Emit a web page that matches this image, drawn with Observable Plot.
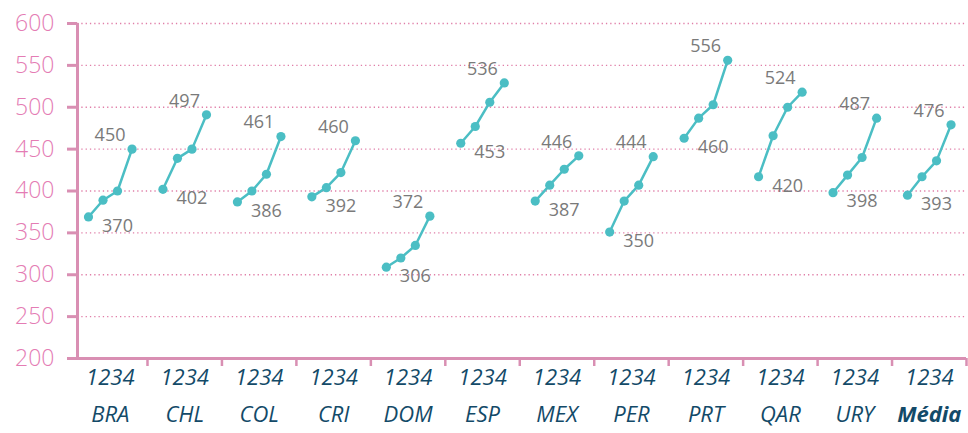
<!DOCTYPE html>
<html>
<head>
<meta charset="utf-8">
<script src="https://cdn.jsdelivr.net/npm/d3@7"></script>
<script src="https://cdn.jsdelivr.net/npm/@observablehq/plot@0.6"></script>
<style>
  html, body { margin: 0; padding: 0; background: #fff; }
  #chart { width: 968px; height: 433px; }
  svg { overflow: visible; }
</style>
</head>
<body>
<div id="chart"></div>
<script>
// ---- data ----
const countries = ["BRA", "CHL", "COL", "CRI", "DOM", "ESP", "MEX", "PER", "PRT", "QAR", "URY", "Média"];
const quartiles = ["1", "2", "3", "4"];
const q1 = [369, 402, 387, 393, 309, 457, 388, 351, 463, 417, 398, 395];
const q2 = [389, 439, 400, 404, 320, 477, 407, 388, 487, 466, 419, 417];
const q3 = [400, 450, 420, 422, 335, 506, 426, 407, 503, 500, 440, 436];
const q4 = [450, 491, 465, 460, 370, 529, 442, 441, 556, 518, 487, 479];
const firstLabels = ["370", "402", "386", "392", "306", "453", "387", "350", "460", "420", "398", "393"];
const lastLabels  = ["450", "497", "461", "460", "372", "536", "446", "444", "556", "524", "487", "476"];
const yTicks = [200, 250, 300, 350, 400, 450, 500, 550, 600];

// ---- build table ----
const series = [q1, q2, q3, q4];
const step = 0.195;
const rows = [];
countries.forEach((c, i) => {
  series.forEach((s, k) => {
    rows.push({country: c, gi: i, q: k, x: i + (k - 1.5) * step, y: s[i]});
  });
});
const firsts = rows.filter(d => d.q === 0).map(d => ({...d, label: firstLabels[d.gi]}));
const lasts = rows.filter(d => d.q === 3).map(d => ({...d, label: lastLabels[d.gi]}));
const groups = countries.map((c, i) => ({country: c, gi: i}));
const boundaries = countries.map((c, i) => i + 0.5);
const lastIdx = countries.length - 1;

const pink = "#d98fb3";
const grid = "#e07fa8";
const tickPink = "#e47cb4";
const teal = "#4bbec4";
const navy = "#134a68";
const xMin = -0.44;

const chart = Plot.plot({
  width: 968,
  height: 433,
  marginTop: 23,
  marginBottom: 75,
  marginLeft: 77,
  marginRight: 2,
  style: {fontFamily: "'Open Sans', sans-serif", background: "#fff"},
  x: {domain: [xMin, countries.length - 0.5], axis: null},
  y: {domain: [200, 600], axis: null},
  marks: [
    Plot.gridY(yTicks.filter(t => t > 200), {stroke: grid, strokeOpacity: 1, strokeWidth: 1.3, strokeDasharray: "1.3,3"}),
    Plot.axisY(yTicks, {
      label: null, tickSize: 10, stroke: pink, strokeWidth: 3, tickPadding: 13,
      fill: tickPink, fontSize: 23, fontWeight: 300, tickFormat: d => String(d)
    }),
    Plot.axisX(boundaries, {label: null, tickSize: 8, stroke: pink, strokeWidth: 2.5, tickFormat: () => ""}),
    Plot.ruleX([xMin], {stroke: pink, strokeWidth: 3}),
    Plot.ruleY([200], {stroke: pink, strokeWidth: 3, insetLeft: -9}),
    Plot.line(rows, {x: "x", y: "y", z: "country", stroke: teal, strokeWidth: 2.5}),
    Plot.dot(rows, {x: "x", y: "y", r: 4.6, fill: teal, stroke: "none"}),
    Plot.text(firsts, {x: "x", y: "y", text: "label", dx: 29, dy: 9, fill: "#7a7a7a", fontSize: 18}),
    Plot.text(lasts, {x: "x", y: "y", text: "label", dx: -22, dy: -14, fill: "#7a7a7a", fontSize: 18}),
    Plot.text(groups, {x: "gi", frameAnchor: "bottom", text: () => quartiles.join(""), dy: 26, fill: navy, fontSize: 22, fontStyle: "italic"}),
    Plot.text(groups.filter(d => d.gi !== lastIdx), {x: "gi", frameAnchor: "bottom", text: "country", dy: 63, fill: navy, fontSize: 22, fontStyle: "italic"}),
    Plot.text(groups.filter(d => d.gi === lastIdx), {x: "gi", frameAnchor: "bottom", text: "country", dy: 63, fill: navy, fontSize: 22, fontStyle: "italic", fontWeight: "bold"})
  ]
});
document.getElementById("chart").appendChild(chart);
</script>
</body>
</html>
